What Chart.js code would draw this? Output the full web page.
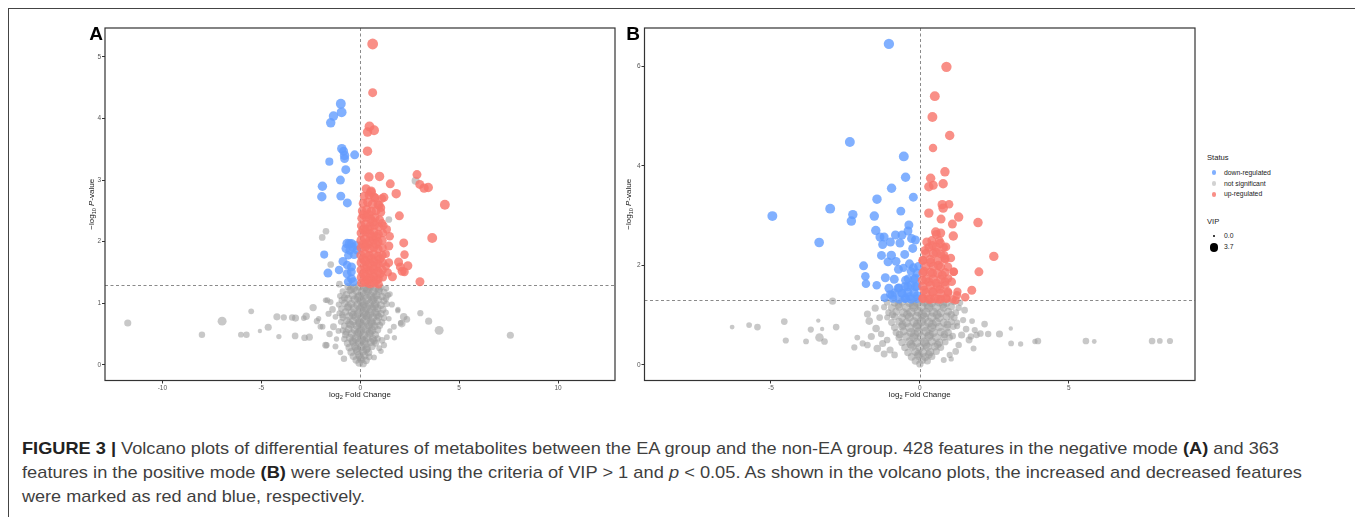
<!DOCTYPE html>
<html><head><meta charset="utf-8">
<script src="https://cdn.jsdelivr.net/npm/chart.js@4.4.1/dist/chart.umd.min.js"></script>
<style>
html,body{margin:0;padding:0;background:#fff;}
body{width:1355px;height:517px;position:relative;overflow:hidden;font-family:"Liberation Sans",Arial,sans-serif;}
#frameTop{position:absolute;left:8px;top:8px;width:1347px;height:0;border-top:1.5px solid #444;}
#frameLeft{position:absolute;left:8px;top:8px;width:0;height:509px;border-left:1.5px solid #444;}
canvas{position:absolute;top:0;}
#cA{left:0;}
#cB{left:622px;}
.cap{position:absolute;left:22px;white-space:nowrap;font-size:17px;line-height:24px;color:#3f3f3f;transform-origin:0 50%;}
.cap b{color:#222;}
.lgt{position:absolute;white-space:nowrap;color:#222;line-height:12px;}
.dot{position:absolute;border-radius:50%;}
</style>
</head><body>
<div id="frameTop"></div><div id="frameLeft"></div>
<canvas id="cA" width="622" height="410"></canvas>
<canvas id="cB" width="585" height="410"></canvas>
<div id="legend"></div>
<div class="cap" id="cap1" style="top:437px"><b>FIGURE 3 |</b> Volcano plots of differential features of metabolites between the EA group and the non-EA group. 428 features in the negative mode <b>(A)</b> and 363</div>
<div class="cap" id="cap2" style="top:461px">features in the positive mode <b>(B)</b> were selected using the criteria of VIP &gt; 1 and <i>p</i> &lt; 0.05. As shown in the volcano plots, the increased and decreased features</div>
<div class="cap" id="cap3" style="top:485px">were marked as red and blue, respectively.</div>
<script>
// ---------- DATA: each point = [log2 fold change, -log10 p-value, VIP] ----------
const A_up = [
[0.63,5.21,3.4],[0.63,4.42,2.6],[0.47,3.87,3.0],[0.7,3.81,3.0],[0.37,3.78,2.8],[0.37,3.47,2.8],[0.44,3.05,2.8],[0.98,3.06,2.8],
[1.52,2.94,2.6],[1.82,2.78,2.8],[1.98,2.42,2.6],[2.87,3.09,2.6],[3.01,2.93,2.6],[3.23,2.87,2.8],[3.44,2.88,2.8],[4.28,2.6,3.0],
[3.64,2.06,3.0],[2.2,1.98,2.6],[2.24,1.79,2.4],[1.49,2.09,2.4],[1.45,1.93,2.6],[1.94,1.67,2.6],[2.03,1.59,2.6],[2.41,1.61,2.6],
[2.12,1.52,2.6],[2.24,1.51,2.4],[1.63,1.43,2.6],[1.45,1.66,2.4],[3.02,1.35,2.6],
[1.2,2.72,2.6],[0.75,2.71,2.6],[0.96,2.59,2.6],[1.05,2.55,2.4],[0.55,2.8,2.8],[1.1,2.3,2.4],[1.35,2.2,2.2],[1.3,1.6,2.3],[1.4,1.5,2.2],
[0.3,2.86,2.6],[0.55,2.82,2.8],[0.2,2.74,2.5],[0.45,2.76,2.7],[0.72,2.72,2.6],[1.1,2.7,2.4],
[0.15,2.62,2.6],[0.38,2.64,2.7],[0.62,2.61,2.8],[0.9,2.6,2.6],
[0.1,2.5,2.5],[0.33,2.52,2.7],[0.56,2.49,2.8],[0.8,2.5,2.6],[1.05,2.48,2.4],
[0.08,2.38,2.6],[0.3,2.4,2.8],[0.52,2.37,2.8],[0.75,2.39,2.7],[0.98,2.36,2.5],
[0.06,2.26,2.6],[0.27,2.28,2.8],[0.5,2.25,2.9],[0.72,2.27,2.8],[0.95,2.24,2.6],[1.18,2.26,2.3],
[0.05,2.14,2.7],[0.26,2.16,2.8],[0.48,2.13,2.9],[0.7,2.15,2.8],[0.92,2.12,2.6],[1.15,2.14,2.4],
[0.04,2.02,2.7],[0.25,2.04,2.9],[0.46,2.01,2.9],[0.68,2.03,2.8],[0.9,2.0,2.7],[1.12,2.02,2.5],
[0.05,1.9,2.7],[0.26,1.92,2.9],[0.47,1.89,2.9],[0.69,1.91,2.8],[0.91,1.88,2.6],[1.13,1.9,2.4],
[0.04,1.78,2.7],[0.25,1.8,2.8],[0.46,1.77,2.9],[0.68,1.79,2.8],[0.9,1.76,2.7],[1.12,1.78,2.5],[1.3,1.8,2.2],
[0.05,1.66,2.7],[0.26,1.68,2.9],[0.47,1.65,2.9],[0.69,1.67,2.8],[0.91,1.64,2.6],[1.14,1.66,2.4],
[0.04,1.54,2.6],[0.25,1.56,2.8],[0.47,1.53,2.9],[0.68,1.55,2.8],[0.9,1.52,2.6],[1.13,1.54,2.4],
[0.05,1.42,2.6],[0.26,1.44,2.8],[0.48,1.41,2.8],[0.7,1.43,2.7],[0.92,1.4,2.5],[1.15,1.42,2.3],
[0.06,1.33,2.5],[0.27,1.34,2.7],[0.49,1.32,2.8],[0.71,1.33,2.6],[0.93,1.31,2.4],
[0.15,2.44,2.6],[0.42,2.44,2.7],[0.65,2.32,2.8],[0.15,2.2,2.7],[0.37,2.2,2.8],[0.6,2.08,2.8],[0.82,2.08,2.7],
[0.15,1.96,2.8],[0.37,1.96,2.8],[0.8,1.96,2.7],[0.15,1.72,2.8],[0.58,1.72,2.8],[1.0,1.72,2.6],[0.37,1.6,2.8],
[0.8,1.6,2.7],[0.15,1.48,2.7],[0.58,1.48,2.8],[1.02,1.48,2.5],[0.38,1.37,2.7],[0.82,1.37,2.6]
];
const A_down = [
[-0.98,4.24,3.0],[-0.94,4.1,3.0],[-1.35,4.04,2.8],[-1.49,3.93,2.8],[-0.93,3.51,2.8],[-0.84,3.47,2.6],[-0.79,3.4,2.8],[-0.79,3.35,2.6],
[-0.28,3.41,2.6],[-1.56,3.3,2.2],[-0.73,3.17,2.6],[-1.0,3.0,2.6],[-1.91,2.9,2.8],[-1.94,2.73,2.8],[-0.98,2.74,2.6],[-0.65,2.63,2.6],
[-0.66,1.97,2.8],[-0.44,1.97,2.6],[-0.21,1.94,2.6],[-0.72,1.89,2.6],[-0.52,1.86,2.6],[-0.31,1.79,2.6],[-1.82,1.79,2.2],[-0.87,1.68,2.6],
[-0.66,1.62,2.4],[-1.07,1.54,2.4],[-0.44,1.59,2.6],[-0.45,1.51,2.6],[-1.63,1.49,2.6],[-0.66,1.48,2.6],[-0.44,1.4,2.6],[-0.61,1.35,2.4],
[-0.35,1.35,2.6],[-0.55,1.97,2.6],[-0.38,1.91,2.4],[-0.15,1.86,2.4],[-0.6,1.78,2.4]
];
const A_ns = [
[-11.75,0.68,1.8],[-6.98,0.71,2.6],[-8.0,0.49,1.5],[-6.03,0.49,1.2],[-5.75,0.49,1.5],[-5.51,0.87,1.2],[-5.07,0.55,0.6],[-4.65,0.61,1.8],
[-4.11,0.46,1.0],[-4.21,0.78,1.8],[-3.86,0.77,1.4],[-3.44,0.77,1.5],[-3.27,0.76,1.8],[-3.29,0.47,1.6],[-2.85,0.76,1.2],[-2.73,0.79,1.9],
[-2.38,0.93,1.9],[-2.81,0.44,1.6],[-2.57,0.45,1.8],[-2.19,0.71,1.4],[-2.01,0.62,1.2],[-1.75,0.32,1.6],[-1.66,1.05,1.3],[3.04,0.84,1.4],
[3.46,0.71,1.8],[3.99,0.56,2.6],[7.59,0.48,1.8],[2.2,0.78,2.0],[2.36,0.74,1.6],[2.1,0.67,2.0],[1.91,0.9,1.0],[1.73,0.44,1.0],[0.96,0.27,1.2],
[-1.73,2.17,1.6],[-1.92,2.07,1.6],[-1.49,1.63,1.6],[1.45,2.36,1.6],[2.8,2.99,2.2],[-1.05,1.31,1.6],
[-1.5,1.02,1.3],[-1.75,1.05,1.1],[-1.4,0.9,1.6],[-1.25,0.78,1.2],[-1.6,0.83,1.4],[-1.35,0.62,1.7],[-1.1,0.55,1.2],[-1.55,0.5,1.5],
[-1.2,0.42,1.0],[-1.7,0.32,1.4],[-1.25,0.3,1.3],[-1.0,0.2,1.1],[1.5,1.15,1.2],[1.6,0.98,1.4],[1.45,0.75,1.1],[1.7,0.62,1.3],
[1.5,0.55,1.0],[1.35,0.45,1.2],[1.2,0.32,1.4],[1.05,0.22,1.1],[1.1,0.4,1.6],[-0.82,0.1,1.5],[0.7,0.12,1.2],[-1.9,0.62,1.2],
[-2.1,0.75,1.0],[1.9,0.88,1.0],[2.05,0.68,1.2],
[-0.62,1.27,1.8],[-0.31,1.25,2.2],[-0.05,1.28,2.5],[0.22,1.26,2.6],[0.48,1.27,2.4],[0.77,1.25,2.1],[1.05,1.26,1.6],[1.32,1.24,1.2],
[-0.88,1.19,1.5],[-0.52,1.21,2.0],[-0.18,1.2,2.4],[0.1,1.18,2.7],[0.38,1.21,2.8],[0.66,1.19,2.5],[0.93,1.2,2.2],[1.21,1.18,1.7],
[-1.02,1.12,1.3],[-0.7,1.14,1.9],[-0.37,1.13,2.3],[-0.04,1.11,2.6],[0.25,1.14,2.8],[0.54,1.12,2.7],[0.82,1.13,2.4],[1.1,1.11,2.0],[1.4,1.13,1.4],
[-0.92,1.05,1.7],[-0.6,1.07,2.1],[-0.27,1.06,2.5],[0.05,1.04,2.8],[0.34,1.07,2.9],[0.62,1.05,2.6],[0.9,1.06,2.3],[1.2,1.04,1.8],
[-1.08,0.98,1.4],[-0.78,1.0,1.9],[-0.45,0.99,2.3],[-0.12,0.97,2.7],[0.18,1.0,2.9],[0.47,0.98,2.8],[0.76,0.99,2.5],[1.04,0.97,2.1],[1.33,0.99,1.5],
[-0.95,0.91,1.6],[-0.63,0.93,2.0],[-0.3,0.92,2.5],[0.0,0.9,2.8],[0.3,0.93,2.9],[0.58,0.91,2.7],[0.87,0.92,2.3],[1.15,0.9,1.8],
[-1.05,0.84,1.3],[-0.75,0.86,1.9],[-0.42,0.85,2.4],[-0.1,0.83,2.7],[0.2,0.86,2.9],[0.48,0.84,2.8],[0.77,0.85,2.4],[1.05,0.83,1.9],[1.3,0.85,1.3],
[-0.88,0.77,1.7],[-0.55,0.79,2.1],[-0.22,0.78,2.6],[0.08,0.76,2.8],[0.37,0.79,2.8],[0.65,0.77,2.5],[0.93,0.78,2.1],[1.2,0.76,1.5],
[-0.97,0.7,1.4],[-0.67,0.72,1.9],[-0.35,0.71,2.4],[-0.04,0.69,2.7],[0.26,0.72,2.9],[0.55,0.7,2.6],[0.84,0.71,2.2],[1.1,0.69,1.6],
[-0.8,0.63,1.7],[-0.48,0.65,2.2],[-0.16,0.64,2.6],[0.14,0.62,2.8],[0.43,0.65,2.7],[0.72,0.63,2.3],[0.98,0.64,1.8],
[-0.88,0.56,1.4],[-0.58,0.58,2.0],[-0.27,0.57,2.5],[0.03,0.55,2.8],[0.32,0.58,2.7],[0.6,0.56,2.4],[0.88,0.57,1.9],
[-0.74,0.49,1.8],[-0.42,0.51,2.3],[-0.12,0.5,2.7],[0.18,0.48,2.7],[0.47,0.51,2.4],[0.76,0.49,2.0],
[-0.8,0.42,1.5],[-0.52,0.44,2.1],[-0.22,0.43,2.5],[0.07,0.41,2.7],[0.36,0.44,2.5],[0.64,0.42,2.1],[0.88,0.43,1.5],
[-0.64,0.35,1.9],[-0.34,0.37,2.4],[-0.04,0.36,2.6],[0.25,0.34,2.6],[0.53,0.37,2.2],[0.78,0.35,1.7],
[-0.55,0.28,2.0],[-0.25,0.3,2.4],[0.05,0.29,2.5],[0.34,0.27,2.3],[0.6,0.3,1.9],
[-0.45,0.21,2.1],[-0.15,0.23,2.4],[0.14,0.22,2.4],[0.42,0.2,2.0],
[-0.34,0.14,2.0],[-0.06,0.16,2.3],[0.22,0.15,2.2],[0.45,0.13,1.7],
[-0.2,0.08,2.0],[0.06,0.09,2.2],[0.3,0.07,1.9],[-0.05,0.03,2.0],[0.15,0.02,1.9],
[-0.45,1.23,2.3],[0.35,1.24,2.6],[0.95,1.23,2.0],[-0.8,1.09,1.8],[-0.1,1.09,2.6],[0.7,1.09,2.5],[1.3,1.08,1.6],[-0.6,0.95,2.1],
[0.12,0.95,2.8],[0.72,0.95,2.6],[-0.9,0.81,1.6],[-0.35,0.81,2.4],[0.28,0.81,2.8],[0.85,0.81,2.3],[-0.55,0.67,2.1],[0.0,0.67,2.7],
[0.6,0.67,2.5],[-0.7,0.53,1.8],[-0.05,0.53,2.6],[0.5,0.54,2.4],[-0.38,0.39,2.3],[0.2,0.39,2.6],[0.7,0.39,1.9],[-0.2,0.26,2.3],
[0.3,0.25,2.3],[0.0,0.12,2.2]
];

const B_up = [
[0.89,5.99,3.2],[0.5,5.4,3.0],[0.42,4.98,3.0],[1.0,4.61,2.8],[0.44,4.36,2.4],[0.84,3.88,2.8],[0.36,3.75,2.8],[0.78,3.64,2.8],
[0.3,3.58,2.8],[0.45,3.61,2.6],[0.75,3.22,2.8],[0.98,3.23,2.4],[0.78,3.15,2.8],[0.3,3.05,2.8],[0.71,2.93,2.6],[1.3,2.97,2.8],
[1.95,2.86,2.8],[1.09,2.83,2.6],[0.53,2.67,2.8],[1.12,2.59,2.8],[2.48,2.18,2.8],[1.98,1.87,2.6],[1.74,1.5,2.6],[1.52,1.36,2.4],
[0.84,2.14,2.6],[1.14,1.87,2.4],[1.24,1.4,2.4],
[0.23,2.47,2.6],[0.42,2.4,2.6],[0.68,2.44,2.8],[0.87,2.37,2.6],[0.17,2.3,2.6],[0.55,2.26,2.7],[0.81,2.2,2.6],[1.04,2.15,2.4],
[0.1,2.1,2.5],[0.36,2.06,2.7],[0.62,2.0,2.7],[0.94,1.97,2.5],[0.14,1.88,2.6],[0.42,1.84,2.7],[0.75,1.8,2.7],[1.13,1.87,2.4],
[0.08,1.7,2.6],[0.3,1.67,2.7],[0.55,1.64,2.7],[0.84,1.67,2.6],[1.07,1.67,2.4],[0.14,1.5,2.6],[0.42,1.47,2.7],[0.68,1.52,2.7],
[0.94,1.47,2.5],[1.26,1.47,2.3],[0.1,1.34,2.5],[0.36,1.32,2.6],[0.62,1.32,2.6],[0.87,1.34,2.5],[1.2,1.3,2.2],
[0.1,1.33,2.6],[0.3,1.32,2.7],[0.5,1.33,2.7],[0.7,1.32,2.6],[0.9,1.33,2.4],[1.1,1.32,2.2],[0.2,1.45,2.7],[0.45,1.46,2.7],
[0.7,1.44,2.6],[0.95,1.45,2.4],[0.1,1.58,2.7],[0.35,1.6,2.7],[0.6,1.58,2.7],[0.85,1.6,2.5],[0.2,1.72,2.7],[0.45,1.73,2.7],
[0.7,1.72,2.6],[0.95,1.74,2.3],[0.1,1.85,2.6],[0.35,1.86,2.7],[0.6,1.84,2.7],[0.85,1.86,2.4],[0.2,1.98,2.7],[0.45,1.98,2.7],
[0.7,1.97,2.6],[0.1,2.1,2.6],[0.35,2.12,2.7],[0.6,2.1,2.6],[0.85,2.12,2.4],[0.2,2.24,2.6],[0.45,2.24,2.7],[0.7,2.23,2.5],
[0.3,2.36,2.6],[0.55,2.37,2.6],[0.8,2.36,2.4],[0.4,2.5,2.5],[0.65,2.5,2.5],[0.55,2.62,2.6],[0.7,2.65,2.6]
];
const B_down = [
[-1.04,6.45,3.2],[-2.35,4.48,3.0],[-0.54,4.19,3.0],[-0.48,3.77,2.8],[-0.95,3.55,2.8],[-0.22,3.37,2.6],[-1.44,3.33,2.8],[-4.95,2.99,3.0],
[-3.01,3.14,3.0],[-2.25,3.02,2.8],[-2.3,2.89,2.8],[-1.53,2.99,2.8],[-0.64,3.09,2.6],[-0.37,2.81,2.6],[-3.38,2.46,2.9],[-1.48,2.7,2.8],
[-1.34,2.57,2.6],[-1.2,2.57,2.6],[-1.25,2.42,2.6],[-0.99,2.47,2.6],[-0.82,2.61,2.6],[-0.67,2.45,2.6],[-0.6,2.61,2.6],[-0.4,2.69,2.6],
[-0.28,2.54,2.6],[-0.15,2.51,2.6],[-0.24,2.34,2.6],[-0.51,2.22,2.6],[-1.29,2.2,2.6],[-0.96,2.2,2.8],[-1.07,2.07,2.6],[-0.8,2.08,2.6],
[-0.35,2.03,2.6],[-0.22,1.95,2.6],[-1.89,1.99,2.6],[-0.72,1.92,2.6],[-1.83,1.78,2.4],[-1.81,1.63,2.4],[-1.45,1.6,2.4],[-1.16,1.75,2.6],
[-0.86,1.72,2.6],[-0.48,1.7,2.6],[-0.15,1.74,2.6],[-1.04,1.54,2.6],[-0.73,1.54,2.6],[-0.41,1.57,2.6],[-0.15,1.57,2.6],[-1.18,1.35,2.4],
[-0.93,1.4,2.6],[-0.6,1.44,2.6],[-0.35,1.37,2.6],[-0.09,1.39,2.6],[-0.48,1.34,2.6],
[-0.1,1.33,2.6],[-0.3,1.32,2.6],[-0.5,1.33,2.5],[-0.7,1.32,2.4],[-0.9,1.33,2.2],[-0.2,1.45,2.6],[-0.4,1.46,2.6],[-0.6,1.44,2.5],
[-0.85,1.45,2.3],[-0.1,1.58,2.6],[-0.3,1.6,2.6],[-0.5,1.58,2.5],[-0.2,1.72,2.6],[-0.4,1.73,2.4],[-0.1,1.85,2.5],[-0.3,1.88,2.4],
[-0.05,1.98,2.4],[-1.0,1.42,2.2],[-0.7,1.55,2.4],[-0.55,1.95,2.3]
];
const B_ns = [
[-6.3,0.76,0.8],[-5.73,0.8,1.2],[-5.45,0.76,1.6],[-4.55,0.87,1.6],[-4.5,0.49,1.4],[-3.82,0.47,1.2],[-3.66,0.71,1.4],[-3.41,0.89,0.6],
[-3.37,0.55,2.4],[-3.28,0.72,0.6],[-3.2,0.47,1.6],[-2.81,0.76,1.6],[-2.93,1.28,1.8],[3.05,0.73,0.6],[3.06,0.43,1.2],[3.38,0.42,1.0],
[3.86,0.47,1.0],[3.96,0.48,1.6],[5.57,0.48,1.6],[5.85,0.47,0.8],[7.79,0.48,1.6],[8.05,0.48,1.2],[8.39,0.48,1.4],
[-1.76,1.02,1.8],[-1.7,0.88,2.0],[-1.47,0.73,2.0],[-1.63,0.57,1.8],[-1.76,0.4,1.6],[-1.92,0.43,1.4],[-1.43,0.33,2.0],[-1.25,0.43,1.8],
[-1.5,1.14,1.8],[-1.35,0.95,1.6],[-1.3,0.62,1.5],[-1.1,0.5,1.6],[-1.0,0.3,1.8],[-0.85,0.2,1.6],[-1.2,0.22,1.7],[-2.1,0.55,1.2],[-2.2,0.35,1.4],
[1.5,1.1,1.6],[1.45,0.9,1.4],[1.55,0.72,1.6],[1.4,0.6,1.8],[1.65,0.5,1.7],[1.3,0.4,1.5],[1.2,0.27,1.6],[1.0,0.2,1.4],[0.8,0.1,1.3],
[1.75,0.88,1.2],[1.9,0.6,1.5],[2.03,0.63,1.6],[1.71,0.57,1.5],[1.84,0.7,1.4],[2.17,0.82,1.6],[2.29,0.62,1.5],[2.67,0.62,1.8],
[1.1,0.58,1.6],[1.25,0.78,1.4],[1.8,0.33,1.3],[1.05,0.12,1.0],
[-1.1,1.26,1.6],[-0.85,1.25,2.0],[-0.6,1.27,2.3],[-0.35,1.25,2.6],[-0.1,1.26,2.8],[0.15,1.27,2.8],[0.4,1.25,2.7],[0.65,1.26,2.5],[0.9,1.25,2.2],[1.15,1.27,1.8],[1.35,1.25,1.4],
[-1.2,1.16,1.4],[-0.95,1.15,1.9],[-0.7,1.17,2.2],[-0.45,1.15,2.5],[-0.2,1.16,2.8],[0.05,1.17,2.9],[0.3,1.15,2.8],[0.55,1.16,2.6],[0.8,1.15,2.3],[1.05,1.17,2.0],[1.3,1.15,1.5],
[-1.05,1.05,1.6],[-0.8,1.07,2.1],[-0.55,1.05,2.4],[-0.3,1.06,2.7],[-0.05,1.07,2.9],[0.2,1.05,2.9],[0.45,1.06,2.7],[0.7,1.05,2.4],[0.95,1.07,2.1],[1.2,1.05,1.7],
[-1.1,0.95,1.3],[-0.85,0.97,1.9],[-0.6,0.95,2.3],[-0.35,0.96,2.6],[-0.1,0.97,2.9],[0.15,0.95,2.9],[0.4,0.96,2.8],[0.65,0.95,2.5],[0.9,0.97,2.2],[1.15,0.95,1.7],
[-0.95,0.85,1.7],[-0.7,0.87,2.1],[-0.45,0.85,2.5],[-0.2,0.86,2.8],[0.05,0.87,2.9],[0.3,0.85,2.8],[0.55,0.86,2.6],[0.8,0.85,2.3],[1.05,0.87,1.9],[1.25,0.85,1.4],
[-0.85,0.75,1.8],[-0.6,0.77,2.2],[-0.35,0.75,2.6],[-0.1,0.76,2.8],[0.15,0.77,2.9],[0.4,0.75,2.7],[0.65,0.76,2.4],[0.9,0.75,2.1],[1.12,0.77,1.6],
[-0.8,0.65,1.7],[-0.55,0.67,2.2],[-0.3,0.65,2.6],[-0.05,0.66,2.8],[0.2,0.67,2.8],[0.45,0.65,2.6],[0.7,0.66,2.3],[0.95,0.65,1.9],
[-0.7,0.55,1.8],[-0.45,0.57,2.3],[-0.2,0.55,2.6],[0.05,0.56,2.8],[0.3,0.57,2.7],[0.55,0.55,2.4],[0.8,0.56,2.0],[1.0,0.55,1.5],
[-0.6,0.45,1.9],[-0.35,0.47,2.4],[-0.1,0.45,2.7],[0.15,0.46,2.7],[0.4,0.47,2.5],[0.65,0.45,2.1],[0.85,0.46,1.6],
[-0.5,0.35,2.0],[-0.25,0.37,2.4],[0.0,0.35,2.6],[0.25,0.36,2.5],[0.5,0.37,2.2],[0.7,0.35,1.7],
[-0.4,0.25,2.0],[-0.15,0.27,2.4],[0.1,0.25,2.5],[0.35,0.26,2.2],[0.55,0.27,1.8],
[-0.28,0.16,2.0],[-0.05,0.18,2.3],[0.18,0.16,2.2],[0.4,0.17,1.8],
[-0.15,0.08,2.0],[0.08,0.1,2.1],[0.25,0.08,1.8],[0.0,0.02,1.9],
[-0.72,1.21,2.1],[-0.22,1.21,2.7],[0.28,1.21,2.8],[0.78,1.21,2.3],[-0.92,1.01,1.9],[-0.42,1.01,2.5],[0.08,1.01,2.9],[0.58,1.01,2.6],
[1.05,1.01,1.9],[-0.58,0.81,2.3],[-0.08,0.81,2.8],[0.42,0.81,2.7],[0.92,0.81,2.1],[-0.68,0.61,2.0],[-0.18,0.61,2.7],[0.32,0.61,2.7],
[0.82,0.61,2.0],[-0.3,0.41,2.5],[0.2,0.41,2.6],[0.6,0.41,2.0],[-0.05,0.22,2.4],[0.3,0.21,2.1]
];

const A_xRange = [-12.9, 12.88], A_yRange = [-0.254, 5.47];
const B_xRange = [-9.24, 9.23],  B_yRange = [-0.314, 6.77];
const A_xTicks = [-10, -5, 0, 5, 10], A_xLabels = ['-10', '-5', '0', '5', '10'];
const A_yTicks = [0, 1, 2, 3, 4, 5],  A_yLabels = ['0', '1', '2', '3', '4', '5'];
const B_xTicks = [-5, 0, 5],          B_xLabels = ['-5', '0', '5'];
const B_yTicks = [0, 2, 4, 6],        B_yLabels = ['0', '2', '4', '6'];
const pCutoff = 0.05;
const statusLabels = ['down-regulated', 'not significant', 'up-regulated'];
const vipLegendValues = [0.0, 3.7];

// ---------- STYLE ----------
const FONT = '"Liberation Sans", Arial, sans-serif';
const COL = { down: 'rgba(97,156,255,0.8)', ns: 'rgba(155,155,155,0.55)', up: 'rgba(248,118,109,0.82)' };
const rOf = v => 1.5 + v * 1.15;

function drawRich(ctx, parts, cx, cy) {
  const fontOf = k => k === 'sub' ? '5.6px ' + FONT : (k === 'it' ? 'italic 8px ' + FONT : '8px ' + FONT);
  let w = 0;
  parts.forEach(p => { ctx.font = fontOf(p[1]); w += ctx.measureText(p[0]).width; });
  let x = cx - w / 2;
  ctx.textBaseline = 'middle'; ctx.textAlign = 'left'; ctx.fillStyle = '#1a1a1a';
  parts.forEach(p => {
    ctx.font = fontOf(p[1]);
    ctx.fillText(p[0], x, cy + (p[1] === 'sub' ? 2 : 0));
    x += ctx.measureText(p[0]).width;
  });
}

const deco = {
  id: 'deco',
  beforeDatasetsDraw(chart, args, o) {
    const { ctx, chartArea: a, scales: { x, y } } = chart;
    ctx.save();
    ctx.strokeStyle = '#8a8a8a'; ctx.lineWidth = 1; ctx.setLineDash([3, 2.5]);
    const px = Math.round(x.getPixelForValue(0)) + 0.5;
    ctx.beginPath(); ctx.moveTo(px, a.top); ctx.lineTo(px, a.bottom); ctx.stroke();
    const py = Math.round(y.getPixelForValue(-Math.log10(pCutoff))) + 0.5;
    ctx.beginPath(); ctx.moveTo(a.left, py); ctx.lineTo(a.right, py); ctx.stroke();
    ctx.restore();
  },
  afterDraw(chart, args, o) {
    const { ctx, chartArea: a } = chart;
    ctx.save();
    ctx.strokeStyle = '#333'; ctx.lineWidth = 1.2;
    ctx.strokeRect(a.left, a.top, a.right - a.left, a.bottom - a.top);
    drawRich(ctx, [['log', 'n'], ['2', 'sub'], [' Fold Change', 'n']], (a.left + a.right) / 2, o.xTitleY);
    ctx.save();
    ctx.translate(o.yTitleX, (a.top + a.bottom) / 2);
    ctx.rotate(-Math.PI / 2);
    drawRich(ctx, [['\u2212log', 'n'], ['10', 'sub'], [' ', 'n'], ['P', 'it'], ['-value', 'n']], 0, 0);
    ctx.restore();
    ctx.font = 'bold 19px ' + FONT; ctx.fillStyle = '#000';
    ctx.textAlign = 'center'; ctx.textBaseline = 'middle';
    ctx.fillText(o.letter, o.letterX, o.letterY);
    ctx.restore();
  }
};

function toPts(arr) { return arr.map(p => ({ x: p[0], y: p[1], r: rOf(p[2]) })); }

function makeChart(id, P) {
  const axisCommon = {
    type: 'linear',
    grid: { drawOnChartArea: false, drawTicks: true, tickLength: 3, color: '#333', lineWidth: 1 },
    border: { display: false },
  };
  return new Chart(document.getElementById(id), {
    type: 'bubble',
    data: { datasets: [
      { label: statusLabels[2], data: toPts(P.up), backgroundColor: COL.up, borderWidth: 0, hoverBorderWidth: 0 },
      { label: statusLabels[0], data: toPts(P.down), backgroundColor: COL.down, borderWidth: 0, hoverBorderWidth: 0 },
      { label: statusLabels[1], data: toPts(P.ns), backgroundColor: COL.ns, borderWidth: 0, hoverBorderWidth: 0 },
    ] },
    options: {
      responsive: false, animation: false, devicePixelRatio: 1, events: [],
      layout: { padding: { top: 28, right: P.padRight, left: 0, bottom: 0 } },
      plugins: { legend: { display: false }, tooltip: { enabled: false },
        deco: { xTitleY: P.xTitleY, yTitleX: P.yTitleX, letter: P.letter, letterX: P.letterX, letterY: P.letterY } },
      scales: {
        x: Object.assign({}, axisCommon, {
          min: P.xr[0], max: P.xr[1],
          afterBuildTicks: s => { s.ticks = P.xt.map(v => ({ value: v })); },
          afterFit: s => { s.height = 29.5; },
          ticks: { font: { size: 6.5, family: FONT }, color: '#555', padding: 1, maxRotation: 0, autoSkip: false,
                   callback: v => P.xl[P.xt.indexOf(v)] }
        }),
        y: Object.assign({}, axisCommon, {
          min: P.yr[0], max: P.yr[1],
          afterBuildTicks: s => { s.ticks = P.yt.map(v => ({ value: v })); },
          afterFit: s => { s.width = P.yWidth; },
          ticks: { font: { size: 6.5, family: FONT }, color: '#555', padding: 1, autoSkip: false,
                   callback: v => P.yl[P.yt.indexOf(v)] }
        })
      }
    },
    plugins: [deco]
  });
}

makeChart('cA', { up: A_up, down: A_down, ns: A_ns, xr: A_xRange, yr: A_yRange, xt: A_xTicks, xl: A_xLabels,
  yt: A_yTicks, yl: A_yLabels, yWidth: 105, padRight: 7, xTitleY: 395, yTitleX: 92, letter: 'A', letterX: 96, letterY: 35 });
makeChart('cB', { up: B_up, down: B_down, ns: B_ns, xr: B_xRange, yr: B_yRange, xt: B_xTicks, xl: B_xLabels,
  yt: B_yTicks, yl: B_yLabels, yWidth: 22.5, padRight: 12, xTitleY: 395, yTitleX: 7, letter: 'B', letterX: 11, letterY: 35 });

// ---------- LEGEND ----------
(function () {
  const L = document.getElementById('legend');
  function txt(s, x, cy, size) {
    const d = document.createElement('div'); d.className = 'lgt';
    d.style.left = x + 'px'; d.style.top = (cy - 6) + 'px'; d.style.fontSize = size + 'px';
    d.textContent = s; L.appendChild(d);
  }
  function dot(cx, cy, r, c) {
    const d = document.createElement('div'); d.className = 'dot';
    d.style.left = (cx - r) + 'px'; d.style.top = (cy - r) + 'px';
    d.style.width = (2 * r) + 'px'; d.style.height = (2 * r) + 'px'; d.style.background = c;
    L.appendChild(d);
  }
  txt('Status', 1207, 157.5, 7.6);
  const cols = [COL.down, 'rgba(155,155,155,0.45)', COL.up];
  const ys = [172.7, 183.5, 194.3];
  statusLabels.forEach((s, i) => { dot(1214, ys[i], 2.4, cols[i]); txt(s, 1224, ys[i], 6.8); });
  txt('VIP', 1207, 221.5, 7.6);
  const vy = [236, 247.3];
  const legendR = [1.3, 4.3];
  vipLegendValues.forEach((v, i) => { dot(1214, vy[i], legendR[i], '#000'); txt(v.toFixed(1), 1224, vy[i], 6.8); });
})();

// ---------- CAPTION width fit ----------
const capTargets = [1257, 1280, 343];
['cap1', 'cap2', 'cap3'].forEach((id, i) => {
  const el = document.getElementById(id);
  const w = el.getBoundingClientRect().width;
  el.style.transform = 'scaleX(' + (capTargets[i] / w) + ')';
});
</script>
</body></html>
